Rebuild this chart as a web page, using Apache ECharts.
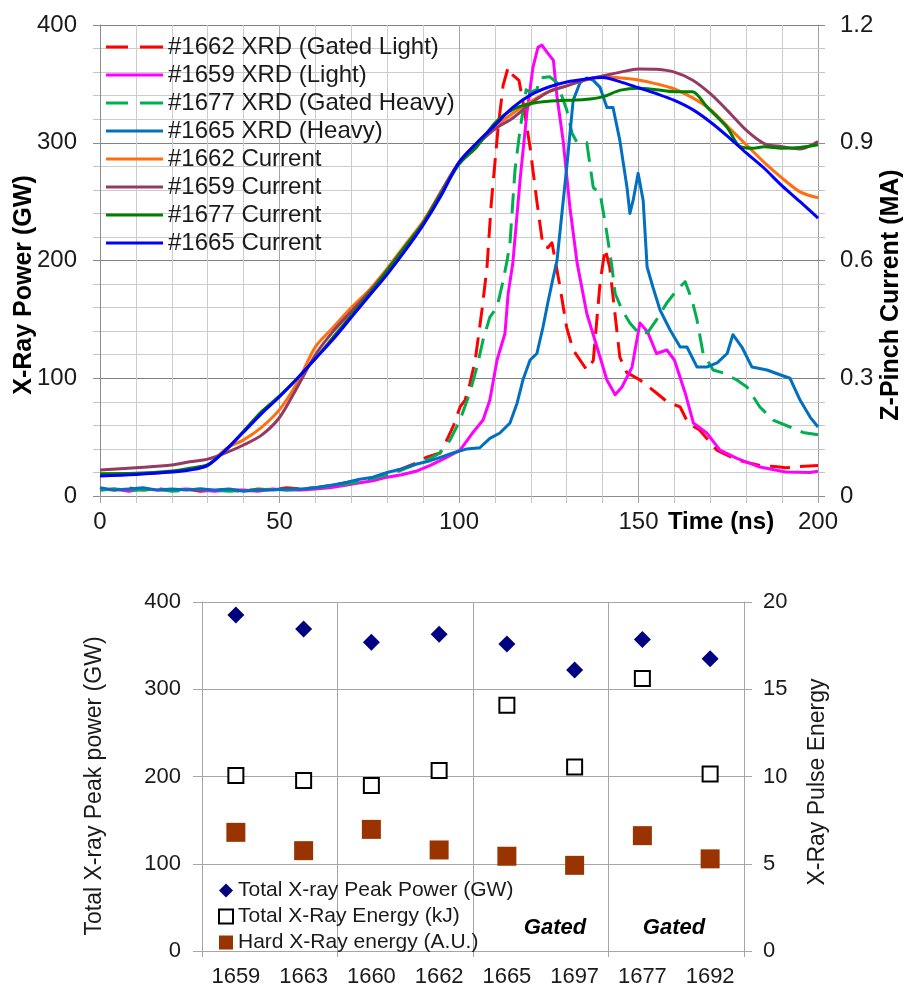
<!DOCTYPE html>
<html><head><meta charset="utf-8">
<script src="https://cdn.jsdelivr.net/npm/echarts@6/dist/echarts.min.js"></script>
<style>html,body{margin:0;padding:0;background:#fff}#c{width:904px;height:988px}</style>
</head><body><div id="c"></div>
<script>
// ---------- Top chart data (time in ns) ----------
const t1662xrd = [0,4,8,12,16,20,24,28,32,36,40,44,48,52,56,60,64,68,72,76,80,84,88,91,94.7,96.6,98.5,100.3,101.7,103,104.5,106.4,107.8,109,110.9,112.3,113.7,115,116.7,117.8,119.8,121.7,123.4,124.8,125.9,128,130,131.8,135.6,137.4,139.3,140.7,142,144.8,146.7,150.4,155,158,161.6,163.8,167,171.8,177.4,183.8,188,191,195,200];
const p1662xrd = [6,5,7,5,6,5,6,4,5,5,4,6,5,7,6,7,9,11,13,15,19,23,28,33,36.5,47.5,60,75.6,81.5,95,115,158,194.5,249,313,349,364,357.5,353,335,296,250,212,211,215,180,143,124,107,115,181,210,194,118,105,98.5,87.5,80,75.6,62,56,39,30.6,26,25,24,25,26];

const t1659xrd = [0,4,8,12,16,20,24,28,32,36,40,44,48,52,56,60,64,68,72,76,80,84,88,92,96,100.3,103.9,106.7,108.6,110.6,112.8,113.7,115,117,118.9,120.6,122,123.1,124.5,126.3,127.3,129,130.9,132.9,135.6,138.4,141.2,143.5,145.4,148.2,150.4,152.6,155,157.9,160,163,165.3,169,172.7,177.4,183.8,191,197.8,200];
const p1659xrd = [5,6,4,6,5,5,6,5,4,5,5,4,6,5,5,6,7,9,11,13,16,18,21,26,32,39,54,64.5,81.5,115.5,138,172,198,268,325,364,381,383,377,370,339,302,245,198,155,127,98.5,86,92.6,109.5,147,139,121,124,115.5,87.5,62,53.5,39,32,24.6,20.4,20,21];

const t1677xrd = [0,4,8,12,16,20,24,28,32,36,40,44,48,52,56,60,64,68,72,76,80,84,88,92,94.7,97.5,100.3,103,105,106.7,108.6,110.6,112.3,113.4,114.2,115.6,117,118.7,119.8,121.7,122.6,125.3,127.3,130,131.5,132.9,135.6,137.4,139.3,141.2,142.6,143.5,145.4,147.6,150.4,152.6,155,157.9,160.7,163,164.9,166.3,168,170.8,173.6,177.4,180.2,183.8,187.5,192.2,195.8,200];
const p1677xrd = [5,6,5,5,6,4,5,6,5,4,5,5,6,5,6,7,8,10,12,15,18,22,27,32,36.5,47.5,64.5,87.5,109.5,132.5,152,160.5,183,200,215,277,311,345,343,345,355,356,351,328,308,300,300,262,257,223,194.5,172,158,147,137,139,149.5,164,175,182,166.5,149.5,121,107,104.5,98.5,92.6,75.6,64.5,58.6,54,52];

const t1665xrd = [0,4,8,12,16,20,24,28,32,36,40,44,48,52,56,60,64,68,72,76,80,84,88,92,95,98.3,102.2,105.8,108.6,111.4,114.2,116.2,117.8,119.8,121.7,123.4,124.8,126.2,127.3,130,131.8,133.7,135.6,137.4,139.3,141.2,142.9,144.8,146.8,147.6,148.5,149.9,151.3,152.4,154,156,158.8,161.6,163.5,166.3,169,171.9,174.7,176.3,178.8,181.6,185.8,189.4,192.2,195,197.8,200];
const p1665xrd = [7,5,6,7,5,6,5,6,5,6,4,5,5,6,6,7,9,11,14,16,20,23,27,30,33,36.5,40,41,49,53.5,62,79,98.5,115.5,121,143.5,165,185,200,279,336,351,355,353,347,330,330,302,262,240,251,274,251,194.5,177.5,158,141,126.5,126.5,109.5,109.5,113,121,137,126.5,109.5,107,103,100,81.5,67,58.6];

const tCur = [0,10,20,25,30,35,40,45,50,55,60,65,70,75,80,85,90,95,100,105,110,115,120,125,130,135,140,145,150,155,160,165,170,175,180,185,190,195,200];
const c1662 = [0.053,0.056,0.062,0.068,0.078,0.12,0.143,0.175,0.22,0.29,0.38,0.43,0.48,0.525,0.58,0.64,0.70,0.775,0.85,0.9,0.94,0.975,1.005,1.03,1.045,1.06,1.068,1.065,1.06,1.05,1.037,1.015,0.985,0.94,0.895,0.85,0.81,0.775,0.76];
const c1659 = [0.066,0.072,0.079,0.087,0.094,0.11,0.13,0.155,0.2,0.278,0.36,0.42,0.47,0.52,0.575,0.635,0.695,0.775,0.85,0.895,0.935,0.963,1.0,1.03,1.045,1.06,1.07,1.08,1.088,1.087,1.08,1.06,1.025,0.98,0.932,0.898,0.89,0.884,0.903];
const c1665 = [0.051,0.055,0.061,0.066,0.078,0.117,0.163,0.21,0.253,0.30,0.35,0.40,0.455,0.51,0.565,0.625,0.69,0.765,0.85,0.9,0.945,0.99,1.022,1.042,1.055,1.062,1.066,1.055,1.04,1.025,1.008,0.985,0.953,0.915,0.874,0.835,0.79,0.75,0.708];
const t1677cur = [0,10,20,25,30,35,40,45,50,55,60,65,70,75,80,85,90,95,100,105,110,115,120,125,130,135,140,145,150,155,160,165,169,174.6,178.3,182,185,190,195,200];
const c1677 = [0.057,0.058,0.064,0.071,0.08,0.117,0.165,0.215,0.255,0.30,0.35,0.405,0.46,0.515,0.575,0.635,0.695,0.77,0.845,0.89,0.95,0.985,1.0,1.006,1.008,1.01,1.017,1.034,1.039,1.035,1.03,1.03,0.992,0.94,0.89,0.886,0.89,0.886,0.888,0.895];

const topNames = ['#1662 XRD (Gated Light)','#1659 XRD (Light)','#1677 XRD (Gated Heavy)','#1665 XRD (Heavy)','#1662 Current','#1659 Current','#1677 Current','#1665 Current'];

// ---------- Bottom chart data ----------
const shots = ['1659','1663','1660','1662','1665','1697','1677','1692'];
const peakPower = [385, 369, 354, 363, 352, 322, 357, 335];
const totalEnergy = [10.06, 9.77, 9.49, 10.34, 14.08, 10.54, 15.62, 10.14];
const hardEnergy = [6.8, 5.75, 6.97, 5.79, 5.43, 4.91, 6.61, 5.28];
const bottomNames = ['Total X-ray Peak Power (GW)','Total X-Ray Energy (kJ)','Hard X-Ray energy (A.U.)'];

const FONT = "'Liberation Sans', Arial, sans-serif";
const pair = (t, v) => t.map((x, i) => [x, v[i]]);
const DASH_ICON = 'path://M0,0h22v3h-22zM34,0h23v3h-23z';
const SOLID_ICON = 'path://M0,0h57v3h-57z';

function xrd(name, t, v, color, dashed) {
  return {name, type:'line', xAxisIndex:0, yAxisIndex:0, data:pair(t, v), symbol:'none', smooth:false,
    lineStyle:{color, width:3, type: dashed ? [20,10] : 'solid', join:'round', cap:'butt'}, itemStyle:{color}, silent:true};
}
function cur(name, t, v, color) {
  return {name, type:'line', xAxisIndex:0, yAxisIndex:1, data:pair(t, v), symbol:'none', smooth:0.3,
    lineStyle:{color, width:3, join:'round'}, itemStyle:{color}, silent:true};
}

const chart = echarts.init(document.getElementById('c'), null, {renderer:'canvas'});
const option = {
  animation:false,
  backgroundColor:'#ffffff',
  grid:[
    {left:100, top:25, width:718, height:471},
    {left:202, top:602, width:542, height:350}
  ],
  xAxis:[
    {gridIndex:0, type:'value', min:0, max:200, interval:50,
      axisLine:{show:true, lineStyle:{color:'#8c8c8c', width:1}},
      axisTick:{show:true, length:7, lineStyle:{color:'#a0a0a0'}},
      minorTick:{show:true, splitNumber:5, length:7, lineStyle:{color:'#c4c4c4'}},
      splitLine:{show:true, lineStyle:{color:'#a6a6a6', width:1}},
      minorSplitLine:{show:true, lineStyle:{color:'#cccccc', width:1}},
      axisLabel:{margin:14, fontSize:24, color:'#1a1a1a', fontFamily:FONT}},
    {gridIndex:1, type:'category', data:shots, boundaryGap:true, position:'bottom',
      axisLine:{show:true, lineStyle:{color:'#a6a6a6', width:1}},
      axisTick:{show:false},
      splitLine:{show:false},
      axisLabel:{interval:0, margin:15, fontSize:22, color:'#1a1a1a', fontFamily:FONT}},
    // helper axis: separators every two shots (category boundaries 0,2,4,6,8)
    {gridIndex:1, type:'value', min:0, max:8, interval:2, position:'bottom',
      axisLine:{show:false},
      axisTick:{show:true, length:6, lineStyle:{color:'#a6a6a6'}},
      splitLine:{show:true, lineStyle:{color:'#a6a6a6', width:1}},
      axisLabel:{show:false}}
  ],
  yAxis:[
    {gridIndex:0, type:'value', position:'left', min:0, max:400, interval:100,
      axisLine:{show:true, lineStyle:{color:'#8c8c8c', width:1}},
      axisTick:{show:true, length:7, lineStyle:{color:'#8c8c8c'}},
      minorTick:{show:true, splitNumber:5, length:7, lineStyle:{color:'#c4c4c4'}},
      splitLine:{show:true, lineStyle:{color:'#808080', width:1}},
      minorSplitLine:{show:true, lineStyle:{color:'#cccccc', width:1}},
      axisLabel:{margin:23, fontSize:24, color:'#1a1a1a', fontFamily:FONT}},
    {gridIndex:0, type:'value', position:'right', min:0, max:1.2, interval:0.3,
      axisLine:{show:true, lineStyle:{color:'#a0a0a0', width:1}},
      axisTick:{show:true, length:7, lineStyle:{color:'#8c8c8c'}},
      minorTick:{show:true, splitNumber:5, length:7, lineStyle:{color:'#c4c4c4'}},
      splitLine:{show:false},
      axisLabel:{margin:22, fontSize:24, color:'#1a1a1a', fontFamily:FONT}},
    {gridIndex:1, type:'value', position:'left', min:0, max:400, interval:100,
      axisLine:{show:true, lineStyle:{color:'#a6a6a6', width:1}},
      axisTick:{show:true, length:9, lineStyle:{color:'#a6a6a6'}},
      splitLine:{show:true, lineStyle:{color:'#a6a6a6', width:1}},
      axisLabel:{margin:21, fontSize:22, color:'#1a1a1a', fontFamily:FONT}},
    {gridIndex:1, type:'value', position:'right', min:0, max:20, interval:5,
      axisLine:{show:true, lineStyle:{color:'#a6a6a6', width:1}},
      axisTick:{show:true, length:8, lineStyle:{color:'#a6a6a6'}},
      splitLine:{show:false},
      axisLabel:{margin:19, fontSize:22, color:'#1a1a1a', fontFamily:FONT}}
  ],
  legend:[
    {data: topNames.map((n, i) => ({name:n, icon: (i === 0 || i === 2) ? DASH_ICON : SOLID_ICON})),
      orient:'vertical', left:106, top:35, padding:0, itemGap:4, itemWidth:57, itemHeight:3,
      textStyle:{fontSize:24, color:'#1a1a1a', fontFamily:FONT}, selectedMode:false},
    {data:bottomNames, orient:'vertical', left:218, top:880, padding:0, itemGap:5, itemWidth:14, itemHeight:14,
      textStyle:{fontSize:21, color:'#1a1a1a', fontFamily:FONT}, selectedMode:false}
  ],
  graphic:[
    {type:'text', x:24, y:285, rotation:Math.PI/2, style:{text:'X-Ray Power (GW)', fontSize:25, fontWeight:'bold', fontFamily:FONT, fill:'#000', textAlign:'center', textVerticalAlign:'middle', verticalAlign:'middle'}},
    {type:'text', x:891, y:295, rotation:Math.PI/2, style:{text:'Z-Pinch Current (MA)', fontSize:25, fontWeight:'bold', fontFamily:FONT, fill:'#000', textAlign:'center', textVerticalAlign:'middle', verticalAlign:'middle'}},
    {type:'text', x:721, y:522, style:{text:'Time (ns)', fontSize:24, fontWeight:'bold', fontFamily:FONT, fill:'#000', textAlign:'center', textVerticalAlign:'middle', verticalAlign:'middle'}},
    {type:'text', x:95, y:786, rotation:Math.PI/2, style:{text:'Total X-ray Peak power (GW)', fontSize:23, fontFamily:FONT, fill:'#1a1a1a', textAlign:'center', textVerticalAlign:'middle', verticalAlign:'middle'}},
    {type:'text', x:818, y:782, rotation:Math.PI/2, style:{text:'X-Ray Pulse Energy', fontSize:23, fontFamily:FONT, fill:'#1a1a1a', textAlign:'center', textVerticalAlign:'middle', verticalAlign:'middle'}},
    {type:'text', x:555, y:928, style:{text:'Gated', fontSize:22, fontWeight:'bold', fontStyle:'italic', fontFamily:FONT, fill:'#000', textAlign:'center', textVerticalAlign:'middle', verticalAlign:'middle'}},
    {type:'text', x:674, y:928, style:{text:'Gated', fontSize:22, fontWeight:'bold', fontStyle:'italic', fontFamily:FONT, fill:'#000', textAlign:'center', textVerticalAlign:'middle', verticalAlign:'middle'}}
  ],
  series:[
    xrd(topNames[0], t1662xrd, p1662xrd, '#ff0000', true),
    xrd(topNames[1], t1659xrd, p1659xrd, '#ff00ff', false),
    xrd(topNames[2], t1677xrd, p1677xrd, '#00b050', true),
    xrd(topNames[3], t1665xrd, p1665xrd, '#0070c0', false),
    cur(topNames[4], tCur, c1662, '#ff6f0f'),
    cur(topNames[5], tCur, c1659, '#953a63'),
    cur(topNames[6], t1677cur, c1677, '#008000'),
    cur(topNames[7], tCur, c1665, '#0000ff'),
    {name:bottomNames[0], type:'scatter', xAxisIndex:1, yAxisIndex:2, data:peakPower, symbol:'diamond', symbolSize:[17,17],
      itemStyle:{color:'#000080', opacity:1}, silent:true},
    {name:bottomNames[1], type:'scatter', xAxisIndex:1, yAxisIndex:3, data:totalEnergy, symbol:'rect', symbolSize:15,
      itemStyle:{color:'#ffffff', borderColor:'#000000', borderWidth:2, opacity:1}, silent:true},
    {name:bottomNames[2], type:'scatter', xAxisIndex:1, yAxisIndex:3, data:hardEnergy, symbol:'rect', symbolSize:19,
      itemStyle:{color:'#993300', opacity:1}, silent:true}
  ]
};
chart.setOption(option);
</script>
</body></html>
